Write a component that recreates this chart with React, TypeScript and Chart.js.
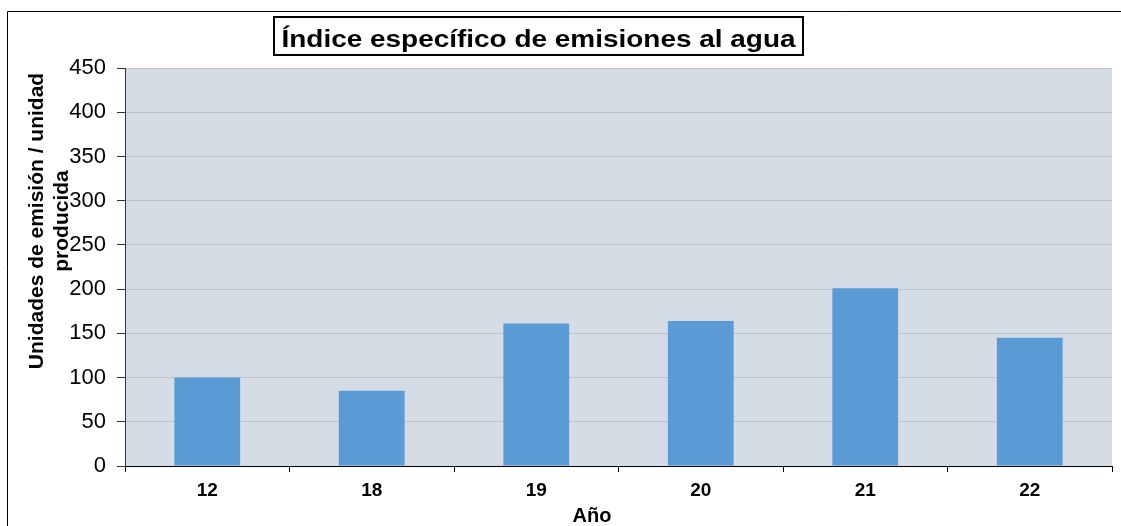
import React, { useEffect, useRef } from "react";
import { Chart, registerables } from "chart.js";

Chart.register(...registerables);

const categories = ["12", "18", "19", "20", "21", "22"];
const values = [100, 85, 161, 164, 201, 145];
const yTickMax = 450;
const yTickStep = 50;
const chartTitle = "Índice específico de emisiones al agua";
const yTitleLines = ["Unidades de emisión / unidad", "producida"];
const xTitle = "Año";

const FONT = "'Liberation Sans', Arial, sans-serif";

const decorPlugin = {
  id: "decor",
  beforeDraw(chart: any) {
    const { ctx, chartArea, width, height } = chart;
    ctx.save();
    ctx.fillStyle = "#ffffff";
    ctx.fillRect(0, 0, width, height);
    ctx.fillStyle = "#D6DCE5";
    ctx.fillRect(chartArea.left, chartArea.top, chartArea.right - chartArea.left, chartArea.bottom - chartArea.top);
    ctx.strokeStyle = "#000000";
    ctx.lineWidth = 1;
    ctx.beginPath();
    ctx.moveTo(7.5, height);
    ctx.lineTo(7.5, 11.5);
    ctx.lineTo(width, 11.5);
    ctx.stroke();
    ctx.restore();
  },
  afterDraw(chart: any) {
    const { ctx } = chart;
    ctx.save();
    ctx.strokeStyle = "#000000";
    ctx.lineWidth = 2;
    ctx.strokeRect(274, 17, 529, 38);
    ctx.fillStyle = "#000000";
    ctx.font = `bold 23px ${FONT}`;
    const w = ctx.measureText(chartTitle).width;
    const target = 514;
    const sx = target / w;
    ctx.textAlign = "center";
    ctx.textBaseline = "alphabetic";
    ctx.translate(538.5, 47);
    ctx.scale(sx, 1);
    ctx.fillText(chartTitle, 0, 0);
    ctx.restore();

    ctx.save();
    ctx.fillStyle = "#000000";
    ctx.font = `bold 21px ${FONT}`;
    ctx.textAlign = "center";
    ctx.translate(0, 221);
    ctx.rotate(-Math.PI / 2);
    ctx.fillText(yTitleLines[0], 0, 43);
    ctx.fillText(yTitleLines[1], 0, 68);
    ctx.restore();

    ctx.save();
    ctx.fillStyle = "#000000";
    ctx.font = `bold 20px ${FONT}`;
    ctx.textAlign = "center";
    ctx.textBaseline = "alphabetic";
    ctx.fillText(xTitle, 592, 522);
    ctx.restore();
  },
};

export default function App() {
  const ref = useRef<HTMLCanvasElement>(null);
  useEffect(() => {
    if (!ref.current) return;
    const chart = new Chart(ref.current, {
      type: "bar",
      data: {
        labels: categories,
        datasets: [
          {
            data: values,
            backgroundColor: "#5B9BD5",
            borderWidth: 0,
            barPercentage: 0.4,
            categoryPercentage: 1,
          },
        ],
      },
      options: {
        animation: false,
        responsive: false,
        layout: { padding: { top: 68, right: 9, left: 0, bottom: 0 } },
        plugins: { legend: { display: false }, tooltip: { enabled: false }, title: { display: false } },
        scales: {
          x: {
            grid: { offset: true, drawOnChartArea: false, drawTicks: true, tickLength: 6, tickColor: "#000", color: "#000" },
            border: { display: true, color: "#000", width: 1 },
            ticks: { color: "#000", font: { family: FONT, size: 19, weight: "bold" }, padding: 7 },
            afterFit: (s: any) => { s.height = 60; },
          },
          y: {
            min: 0,
            max: yTickMax,
            ticks: { stepSize: yTickStep, color: "#000", font: { family: FONT, size: 22 }, padding: 11 },
            grid: { color: "#BFC4CC", tickColor: "#333", tickLength: 8, lineWidth: 1 },
            border: { display: true, color: "#333", width: 1 },
            afterFit: (s: any) => { s.width = 125; },
          },
        },
      },
      plugins: [decorPlugin],
    } as any);
    return () => chart.destroy();
  }, []);
  return (
    <div style={{ position: "fixed", left: 0, top: 0, width: 1121, height: 526 }}>
      <canvas ref={ref} width={1121} height={526} style={{ display: "block" }} />
    </div>
  );
}
